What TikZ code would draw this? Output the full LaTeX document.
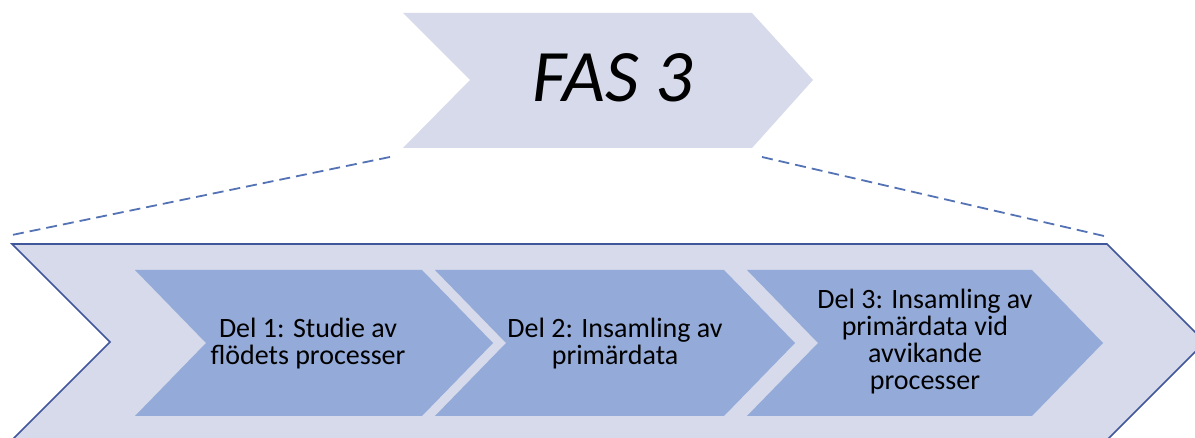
\documentclass[tikz,border=0pt]{standalone}
\usepackage{fontspec}
\setmainfont{Carlito}
\definecolor{paleband}{HTML}{D6DAEB}
\definecolor{stepfill}{HTML}{94AAD8}
\definecolor{edgeblue}{HTML}{40569A}
\definecolor{dashblue}{HTML}{5473B4}
\begin{document}
\begin{tikzpicture}[x=1pt,y=-1pt,
  bandfill/.style={fill=paleband},
  stepshape/.style={fill=stepfill},
  steptext/.style={align=center,inner sep=0pt,text=black,
    font=\fontsize{28}{27}\selectfont},
  titletext/.style={inner sep=0pt,font=\fontsize{74}{80}\selectfont\itshape},
  zoomline/.style={draw=dashblue,line width=1.8pt,dash pattern=on 11pt off 6pt}]
\useasboundingbox (0,0) rectangle (1195,438);

% phase arrow at the top
\fill[bandfill] (403,13) -- (752,13) -- (813,80) -- (752,148) -- (403,148) -- (470,80) -- cycle;
\node[titletext,text=black,anchor=base] (title) at (613,102) {FAS 3};

% dashed zoom lines
\coordinate (zl1) at (390,157);
\coordinate (zl2) at (12,235);
\coordinate (zr1) at (762,157);
\coordinate (zr2) at (1104,236);
\draw[zoomline] (zl1) -- (zl2);
\draw[zoomline] (zr1) -- (zr2);

% large enclosing arrow, running past the page edges
\begin{scope}
  \clip (0,0) rectangle (1195,438);
  \fill[bandfill] (12,244) -- (1107,244) -- (1205,342) -- (1107,440) -- (12,440) -- (110,342) -- cycle;
  \draw[edgeblue,line width=1.6pt] (12,440) -- (110,342) -- (12,244) -- (1107,244) -- (1205,342) -- (1107,440) -- (12,440);
\end{scope}

% the three steps
\fill[stepshape] (135,270) -- (422,270) -- (493,343) -- (422,416) -- (135,416) -- (206,343) -- cycle;
\fill[stepshape] (435,270) -- (724,270) -- (795,343) -- (724,416) -- (435,416) -- (506,343) -- cycle;
\fill[stepshape] (747,270) -- (1032,270) -- (1103,343) -- (1032,416) -- (747,416) -- (818,343) -- cycle;

\node[steptext] (del1) at (308,344) {Del 1: Studie av\\flödets processer};
\node[steptext] (del2) at (615,344) {Del 2: Insamling av\\primärdata};
\node[steptext] (del3) at (925,342) {Del 3: Insamling av\\primärdata vid\\avvikande\\processer};
\end{tikzpicture}
\end{document}
